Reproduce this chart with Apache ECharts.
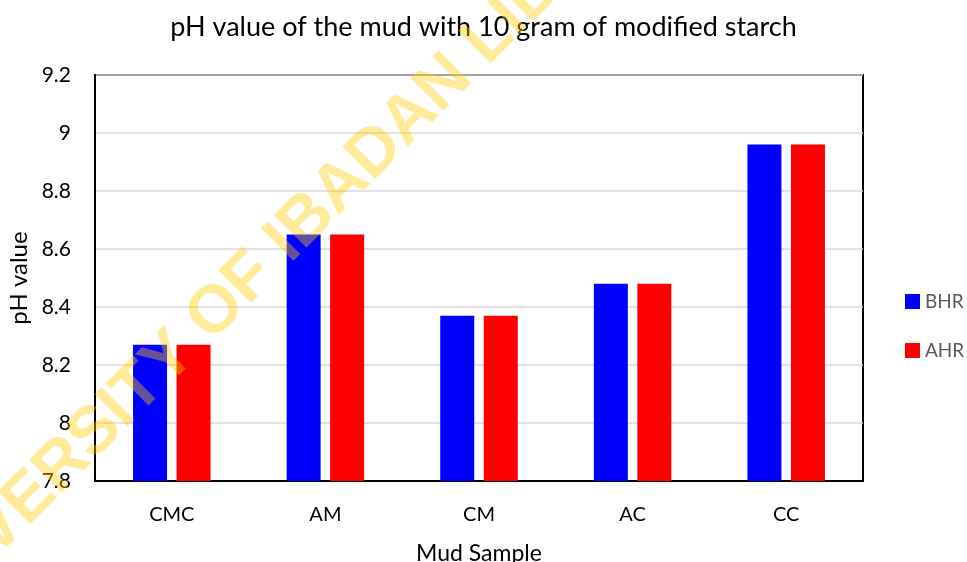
<!DOCTYPE html>
<html>
<head>
<meta charset="utf-8">
<script src="https://cdn.jsdelivr.net/npm/echarts@6/dist/echarts.min.js"></script>
<style>
  html, body { margin: 0; padding: 0; background: #fff; }
  #chart { width: 967px; height: 562px; }
</style>
</head>
<body>
<div id="chart"></div>
<script>
// Daten
const samples = ['CMC', 'AM', 'CM', 'AC', 'CC'];
const bhrValues = [8.27, 8.65, 8.37, 8.48, 8.96];
const ahrValues = [8.27, 8.65, 8.37, 8.48, 8.96];
const yTicks = [7.8, 8, 8.2, 8.4, 8.6, 8.8, 9, 9.2];

const font = 'Lato';

const myChart = echarts.init(document.getElementById('chart'));

const option = {
  backgroundColor: '#fff',
  animation: false,
  title: {
    text: 'pH value of the mud with 10 gram of modified starch',
    left: 'center',
    top: 9,
    textStyle: { fontFamily: font, fontSize: 27, fontWeight: 'normal', color: '#000' }
  },
  legend: {
    orient: 'vertical',
    left: 905,
    top: 292,
    padding: 0,
    itemWidth: 15,
    itemHeight: 15,
    itemGap: 30,
    icon: 'rect',
    textStyle: { fontFamily: font, fontSize: 19, color: '#595959' },
    data: ['BHR', 'AHR']
  },
  grid: {
    left: 95,
    right: 104,
    top: 75,
    bottom: 81,
    outerBoundsMode: 'none',
    containLabel: false,
    show: true,
    borderColor: '#000',
    borderWidth: 2
  },
  xAxis: {
    type: 'category',
    data: samples,
    name: 'Mud Sample',
    nameLocation: 'middle',
    nameGap: 61,
    nameTextStyle: { fontFamily: font, fontSize: 23, color: '#000' },
    axisLine: { lineStyle: { color: '#000', width: 2 } },
    axisTick: { show: false },
    axisLabel: { fontFamily: font, fontSize: 20, color: '#000', margin: 24 }
  },
  yAxis: {
    type: 'value',
    min: yTicks[0],
    max: yTicks[yTicks.length - 1],
    interval: 0.2,
    name: 'pH value',
    nameLocation: 'middle',
    nameGap: 62,
    nameTextStyle: { fontFamily: font, fontSize: 24, color: '#000' },
    axisLine: { show: true, lineStyle: { color: '#000', width: 2 } },
    axisTick: { show: false },
    axisLabel: {
      fontFamily: font, fontSize: 21, color: '#000', margin: 24,
      formatter: v => String(Math.round(v * 10) / 10)
    },
    splitLine: { lineStyle: { color: '#d9d9d9', width: 1.5 } }
  },
  series: [
    {
      name: 'BHR',
      type: 'bar',
      data: bhrValues,
      barWidth: 34,
      barGap: '28%',
      itemStyle: { color: '#0000ff' }
    },
    {
      name: 'AHR',
      type: 'bar',
      data: ahrValues,
      barWidth: 34,
      itemStyle: { color: '#ff0000' }
    }
  ],
  // Wasserzeichen
  graphic: [
    {
      type: 'text',
      x: 292,
      y: 236,
      rotation: Math.PI / 4,
      z: 100,
      silent: true,
      style: {
        text: 'UNIVERSITY OF IBADAN LIBRARY',
        fontFamily: 'Liberation Sans',
        fontWeight: 'bold',
        fontSize: 67,
        fill: 'rgba(255,204,0,0.4)',
        align: 'center',
        verticalAlign: 'middle'
      }
    }
  ]
};

myChart.setOption(option);

window.addEventListener('resize', () => {
  myChart.resize();
});
</script>
</body>
</html>
